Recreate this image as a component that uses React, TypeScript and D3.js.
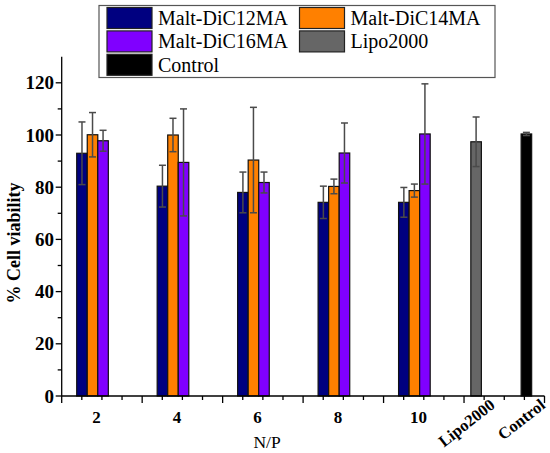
import React, { useEffect, useRef } from 'react';
import * as d3 from 'd3';

// N/P ratios on the x axis
const npLabels = ['2', '4', '6', '8', '10'];
const seriesNames = ['Malt-DiC12MA', 'Malt-DiC14MA', 'Malt-DiC16MA'];
const c12Values = [93, 80.4, 78, 74.2, 74.2];
const c12Errors = [12, 8, 7.8, 6.2, 5.7];
const c14Values = [100.1, 100, 90.4, 80.3, 78.7];
const c14Errors = [8.5, 6.4, 20.2, 2.8, 2.5];
const c16Values = [97.8, 89.5, 81.8, 93.1, 100.4];
const c16Errors = [4, 20.5, 4, 11.5, 19.2];
const lipoValue = 97.4;
const lipoError = 9.5;
const controlValue = 100.4;
const controlError = 0.6;
const yTicks = [0, 20, 40, 60, 80, 100, 120];

const colors = ['#000080', '#ff8000', '#8000ff', '#666666', '#000000'];

const W = 550;
const H = 453;

const App: React.FC = () => {
  const svgRef = useRef<SVGSVGElement>(null);

  useEffect(() => {
    if (!svgRef.current) return;
    const svg = d3.select(svgRef.current);
    svg.selectAll('*').remove();

    const x = d3.scaleLinear().domain([0, 6]).range([61.7, 544.5]);
    const y = d3.scaleLinear().domain([0, 130]).range([396, 56.7]);
    const barW = 0.131; // in x units

    // group centres, lipo and control slots
    const groupPos = npLabels.map((_, i) => i + 0.383);
    const lipoPos = 5.15;
    const controlPos = 5.775;

    type Bar = { pos: number; v: number; e: number; color: string };
    const bars: Bar[] = [];
    const seriesVals = [c12Values, c14Values, c16Values];
    const seriesErrs = [c12Errors, c14Errors, c16Errors];
    seriesVals.forEach((vals, s) => {
      vals.forEach((v, i) => {
        bars.push({ pos: groupPos[i] + (s - 1) * barW, v, e: seriesErrs[s][i], color: colors[s] });
      });
    });
    bars.push({ pos: lipoPos, v: lipoValue, e: lipoError, color: colors[3] });
    bars.push({ pos: controlPos, v: controlValue, e: controlError, color: colors[4] });

    const bw = x(barW) - x(0);

    // bars
    svg.append('g')
      .selectAll('rect')
      .data(bars)
      .join('rect')
      .attr('x', d => x(d.pos) - bw / 2)
      .attr('y', d => y(d.v))
      .attr('width', bw)
      .attr('height', d => y(0) - y(d.v))
      .attr('fill', d => d.color)
      .attr('stroke', '#111')
      .attr('stroke-width', 1.2);

    // error bars
    const eg = svg.append('g').attr('stroke', '#4a4a4a').attr('stroke-width', 1.5);
    bars.forEach(d => {
      const cx = x(d.pos);
      eg.append('line').attr('x1', cx).attr('x2', cx).attr('y1', y(d.v + d.e)).attr('y2', y(d.v - d.e));
      [d.v + d.e, d.v - d.e].forEach(t => {
        eg.append('line').attr('x1', cx - 3.5).attr('x2', cx + 3.5).attr('y1', y(t)).attr('y2', y(t));
      });
    });

    // y axis
    const ya = svg.append('g').attr('stroke', '#000').attr('stroke-width', 1.3);
    ya.append('line').attr('x1', x(0)).attr('x2', x(0)).attr('y1', y(130)).attr('y2', y(0));
    d3.range(0, 121, 10).forEach(t => {
      const len = t % 20 === 0 ? 6 : 4;
      ya.append('line').attr('x1', x(0) - len).attr('x2', x(0)).attr('y1', y(t)).attr('y2', y(t));
    });
    svg.append('g')
      .selectAll('text')
      .data(yTicks)
      .join('text')
      .attr('x', 54)
      .attr('y', d => y(d))
      .attr('dy', '0.35em')
      .attr('text-anchor', 'end')
      .attr('font-weight', 'bold')
      .attr('font-size', 19)
      .text(d => d);

    svg.append('text')
      .attr('transform', 'translate(20,243) rotate(-90)')
      .attr('text-anchor', 'middle')
      .attr('font-weight', 'bold')
      .attr('font-size', 18)
      .text('% Cell viability');

    // x axis
    const xa = svg.append('g').attr('stroke', '#000').attr('stroke-width', 1.3);
    xa.append('line').attr('x1', x(0)).attr('x2', x(6)).attr('y1', y(0)).attr('y2', y(0));
    d3.range(0, 6.01, 0.25).forEach(t => {
      const len = Math.abs(t - Math.round(t)) < 1e-6 ? 7 : 4;
      xa.append('line').attr('x1', x(t)).attr('x2', x(t)).attr('y1', y(0)).attr('y2', y(0) + len);
    });
    svg.append('g')
      .selectAll('text')
      .data(npLabels)
      .join('text')
      .attr('x', (_, i) => x(groupPos[i]) + 4)
      .attr('y', 423)
      .attr('text-anchor', 'middle')
      .attr('font-weight', 'bold')
      .attr('font-size', 17)
      .text(d => d);
    [
      { pos: lipoPos, label: 'Lipo2000' },
      { pos: controlPos, label: 'Control' },
    ].forEach(d => {
      svg.append('text')
        .attr('transform', `translate(${x(d.pos) + 20},407) rotate(-38)`)
        .attr('text-anchor', 'end')
        .attr('font-weight', 'bold')
        .attr('font-size', 16.5)
        .text(d.label);
    });
    svg.append('text')
      .attr('x', 267)
      .attr('y', 448)
      .attr('text-anchor', 'middle')
      .attr('font-size', 17.5)
      .text('N/P');

    // legend
    const lg = svg.append('g');
    lg.append('rect')
      .attr('x', 99).attr('y', 5.5).attr('width', 396).attr('height', 72)
      .attr('fill', 'white').attr('stroke', '#555').attr('stroke-width', 1.2);
    const legendNames = [...seriesNames, 'Lipo2000', 'Control'];
    legendNames.forEach((name, k) => {
      const col = k % 2;
      const row = Math.floor(k / 2);
      const sx = col === 0 ? 107 : 299.5;
      const sy = 7.5 + row * 23.4;
      lg.append('rect')
        .attr('x', sx).attr('y', sy).attr('width', 45).attr('height', 21)
        .attr('fill', colors[k]).attr('stroke', '#222').attr('stroke-width', 1.2);
      lg.append('text')
        .attr('x', sx + 51)
        .attr('y', sy + 17.5)
        .attr('font-size', 20)
        .text(name);
    });
  }, []);

  return (
    <svg
      ref={svgRef}
      width={W}
      height={H}
      fontFamily="'Liberation Serif', 'Times New Roman', 'DejaVu Serif', serif"
      style={{ position: 'absolute', left: 0, top: 0, background: 'white' }}
    />
  );
};

export default App;
